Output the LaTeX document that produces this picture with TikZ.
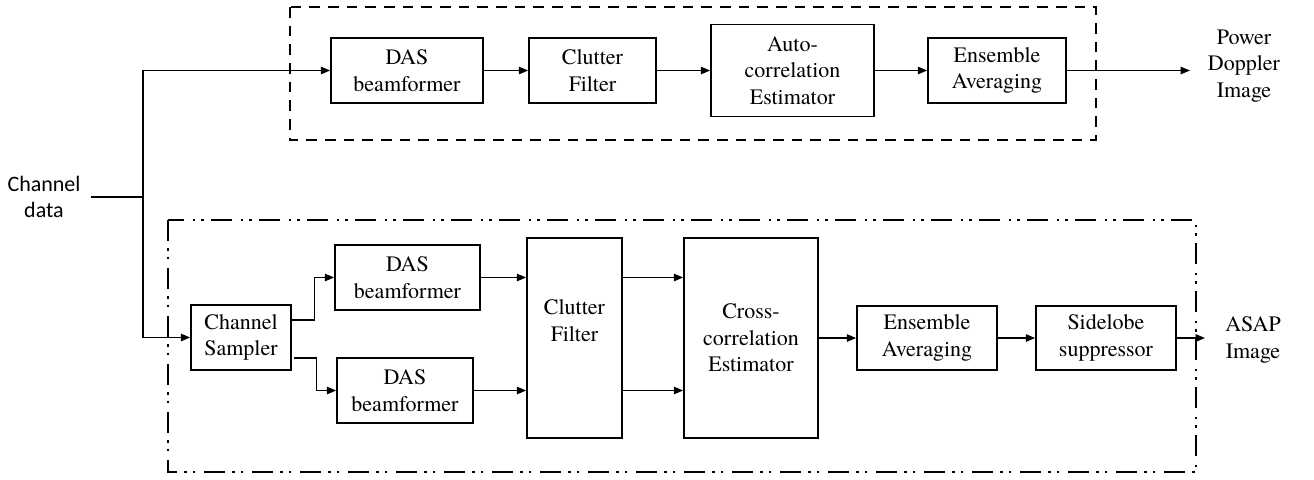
\documentclass[tikz,border=0pt]{standalone}
\usepackage{fontspec}
\setmainfont{texgyretermes}[Extension=.otf,UprightFont=*-regular,BoldFont=*-bold]
\newfontfamily\labelsans{Carlito}
\usetikzlibrary{arrows.meta}
\begin{document}
\begin{tikzpicture}[x=0.75pt,y=-0.75pt,
  blk/.style={draw,line width=1.2pt,align=center,inner sep=2pt,
    font=\rmfamily\fontsize{16.5}{20}\selectfont},
  lbl/.style={align=center,font=\rmfamily\fontsize{16.5}{20}\selectfont},
  arr/.style={line width=1.2pt,-{Triangle[length=7pt,width=5.5pt]}},
  wire/.style={line width=1.2pt},
  dashgroup/.style={line width=1.6pt,dash pattern=on 8pt off 6pt},
  dotgroup/.style={line width=1.6pt,
    dash pattern=on 16pt off 5pt on 2pt off 4.5pt on 2pt off 6.5pt}]
\useasboundingbox (0,0) rectangle (1314,479);

% group outlines
\draw[dashgroup] (290,7) rectangle (1096,140);
\draw[dotgroup] (168,220) rectangle (1196,472);

% input label and split point
\node[align=center,font=\labelsans\fontsize{16.5}{20}\selectfont,inner xsep=8pt] (chan) at (44,197) {Channel\\data};
\coordinate (j) at (143,197);

% power Doppler chain
\node[blk,minimum width=114pt,minimum height=48.75pt] (das1) at (407,70.5) {DAS\\beamformer};
\node[blk,minimum width=95.25pt,minimum height=48.75pt] (cf1) at (592.5,70.5) {Clutter\\Filter};
\node[blk,minimum width=122.25pt,minimum height=69pt] (ac) at (792.5,70.5) {Auto-\\correlation\\Estimator};
\node[blk,minimum width=103.5pt,minimum height=48.75pt] (ea1) at (997,70.5) {Ensemble\\Averaging};
\node[lbl] (pdi) at (1244,66) {Power\\Doppler\\Image};
\coordinate (pdout) at (1190,70.5);

% ASAP chain
\node[blk,minimum width=75pt,minimum height=48.75pt] (cs) at (241,337.5) {Channel\\Sampler};
\node[blk,minimum width=108.75pt,minimum height=48.75pt] (das2) at (407.5,277.5) {DAS\\beamformer};
\node[blk,minimum width=102pt,minimum height=48.75pt] (das3) at (405,390.5) {DAS\\beamformer};
\node[blk,minimum width=71.25pt,minimum height=150pt] (cf2) at (574.5,338) {Clutter\\Filter\\[0pt]\strut};
\node[blk,minimum width=100.5pt,minimum height=150pt] (cc) at (751,338) {Cross-\\correlation\\Estimator};
\node[blk,minimum width=105pt,minimum height=48pt] (ea2) at (927,338) {Ensemble\\Averaging};
\node[blk,minimum width=105pt,minimum height=48pt] (sl) at (1106,338) {Sidelobe\\suppressor};
\node[lbl] (asap) at (1253,340) {ASAP\\Image};
\coordinate (asout) at (1205,338);

% connectors
\draw[wire] (chan.east) -- (j);
\draw[arr] (j) |- (das1.west);
\draw[arr] (j) |- (cs.west);
\draw[arr] (das1) -- (cf1);
\draw[arr] (cf1) -- (ac);
\draw[arr] (ac) -- (ea1);
\draw[arr] (ea1) -- (pdout);

\draw[arr] ([yshift=13pt]cs.east) -- ++(22.5,0) |- (das2.west);
\draw[arr] ([xshift=1.5pt,yshift=-15.4pt]cs.east) -- ++(22.5,0) |- (das3.west);
\draw[arr] (das2.east) -- (das2.east -| cf2.west);
\draw[arr] (das3.east) -- (das3.east -| cf2.west);
\draw[arr] (cf2.east |- das2.east) -- (cc.west |- das2.east);
\draw[arr] (cf2.east |- das3.east) -- (cc.west |- das3.east);
\draw[arr] (cc) -- (ea2);
\draw[arr] (ea2) -- (sl);
\draw[arr] (sl) -- (asout);
\end{tikzpicture}
\end{document}
